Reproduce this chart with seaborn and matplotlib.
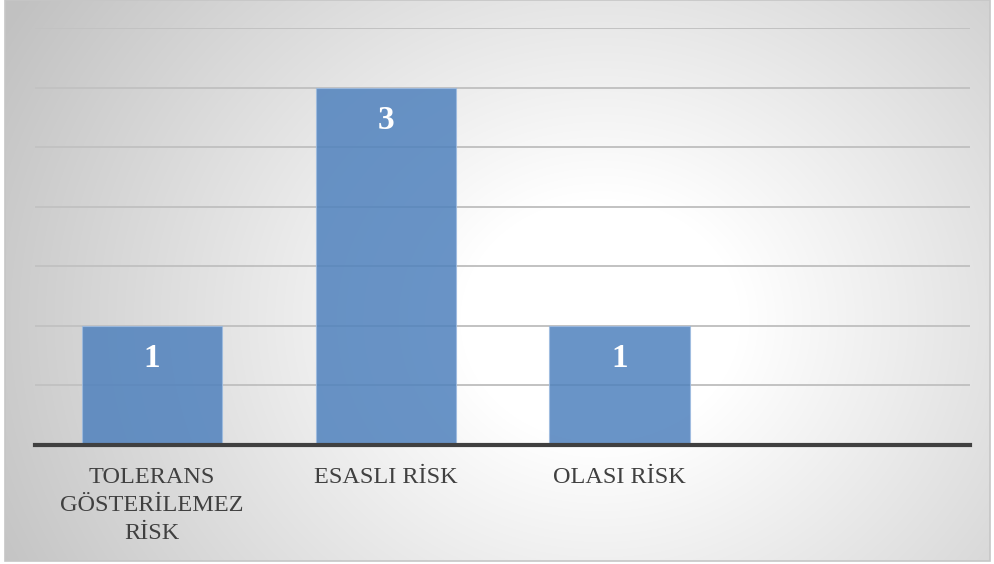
import numpy as np
import pandas as pd
import matplotlib
matplotlib.use("Agg")
import matplotlib.pyplot as plt
from matplotlib.patches import Rectangle
import seaborn as sns

# Risk categories and counts
categories = ["TOLERANS\nGÖSTERİLEMEZ\nRİSK", "ESASLI RİSK", "OLASI RİSK"]
counts = [1, 3, 1]
n_slots = 4  # the category axis keeps one empty slot on the right

df = pd.DataFrame({"kategori": categories, "sayi": counts})

sns.set_theme(style="white")
plt.rcParams["font.family"] = ["Liberation Serif", "DejaVu Serif"]

W, H, DPI = 994, 564, 100
fig = plt.figure(figsize=(W / DPI, H / DPI), dpi=DPI)
fig.patch.set_facecolor("white")

# Radial grey-to-white backdrop behind the chart area
bg = fig.add_axes([0, 0, 1, 1], zorder=0)
yy, xx = np.mgrid[0:H, 0:W]
r = np.hypot((xx - 600) * 1.0, (yy - 320) * 1.15)
t = np.clip((r - 140) / 540, 0, 1)
shade = 1 - 0.24 * t
img = np.dstack([shade, shade, shade])
bg.imshow(img, extent=[0, W, H, 0], aspect="auto", interpolation="bilinear")
bg.set_xlim(0, W)
bg.set_ylim(H, 0)
bg.axis("off")
# frame around the chart
bg.add_patch(Rectangle((0, 0), 5, H, color="white", lw=0))
bg.add_patch(Rectangle((990, 0), 10, H, color="white", lw=0))
bg.add_patch(Rectangle((0, 561), W, 10, color="white", lw=0))
bg.add_patch(Rectangle((5, 0), 985, 561, fill=False, ec="#c6c6c6", lw=1.2))

# Bar chart
ax = fig.add_axes([35 / W, 1 - 445 / H, (970 - 35) / W, (445 - 28) / H], zorder=1)
ax.patch.set_alpha(0)
sns.barplot(data=df, x="kategori", y="sayi", color="#4F81BD", saturation=1,
            alpha=0.85, width=0.6, ax=ax, edgecolor="#9dbbe0", linewidth=0.8,
            zorder=2)
ax.set_xlim(-0.5, n_slots - 0.5)
ax.set_ylim(0, 3.5)
ax.set_yticks(np.arange(0.5, 3.51, 0.5))
ax.set_axisbelow(True)
ax.yaxis.grid(True, color="#c2c2c2", lw=1.4)
ax.xaxis.grid(False)
ax.tick_params(axis="y", left=False, labelleft=False)
ax.tick_params(axis="x", bottom=False, pad=10)
for lab in ax.get_xticklabels():
    lab.set_fontsize(17.5)
    lab.set_color("#404040")
    lab.set_linespacing(1.42)
ax.set_xlabel("")
ax.set_ylabel("")
for s in ["top", "right", "left"]:
    ax.spines[s].set_visible(False)
ax.spines["bottom"].set_color("#404040")
ax.spines["bottom"].set_linewidth(3)

# Value labels inside the bars
for i, v in enumerate(counts):
    ax.annotate(str(v), (i, v), xytext=(0, -23.5), textcoords="offset points",
                ha="center", va="center", color="white", fontsize=24,
                fontweight="bold", zorder=3)

fig.savefig("out.png", dpi=DPI)
